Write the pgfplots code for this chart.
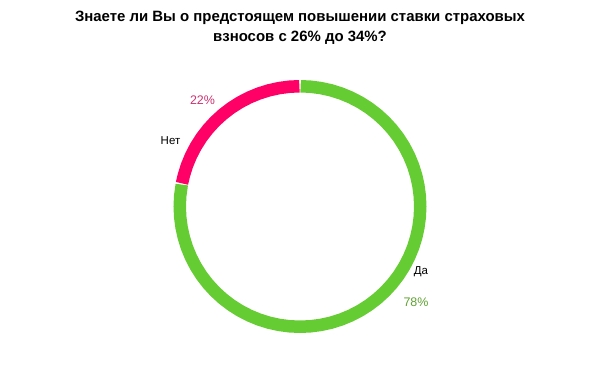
\documentclass[border=0pt]{standalone}
\usepackage{pgfplots}
\pgfplotsset{compat=1.18}
\usepgfplotslibrary{polar}
\usepackage{fontspec}
\setmainfont{Liberation Sans}
\definecolor{ringGreen}{HTML}{66CC33}
\definecolor{ringPink}{HTML}{FF0066}
\definecolor{lblPink}{HTML}{CC3370}
\definecolor{lblGreen}{HTML}{5FA232}
\begin{document}
\begin{tikzpicture}
\useasboundingbox (0,0) rectangle (600bp,366bp);
% Data: Нет 22%, Да 78% (starting at 12 o'clock; Нет counter-clockwise, Да clockwise)
\begin{polaraxis}[
  at={(300bp,159.5bp)}, anchor=center,
  scale only axis, width=253bp, height=253bp,
  ymin=0, ymax=126.5, hide axis, clip=false]
% Нет: 22% -> 79.2 degrees, 90 .. 169.2
\addplot[ringPink, line width=12.5bp, no markers] coordinates {
 (90.3,120.25) (95,120.25) (100,120.25) (105,120.25) (110,120.25) (115,120.25)
 (120,120.25) (125,120.25) (130,120.25) (135,120.25) (140,120.25) (145,120.25)
 (150,120.25) (155,120.25) (160,120.25) (165,120.25) (168.9,120.25)};
% Да: 78% -> 280.8 degrees, 90 .. -190.8
\addplot[ringGreen, line width=12.5bp, no markers] coordinates {
 (89.7,120.25) (85,120.25) (80,120.25) (75,120.25) (70,120.25) (65,120.25)
 (60,120.25) (55,120.25) (50,120.25) (45,120.25) (40,120.25) (35,120.25)
 (30,120.25) (25,120.25) (20,120.25) (15,120.25) (10,120.25) (5,120.25)
 (0,120.25) (-5,120.25) (-10,120.25) (-15,120.25) (-20,120.25) (-25,120.25)
 (-30,120.25) (-35,120.25) (-40,120.25) (-45,120.25) (-50,120.25) (-55,120.25)
 (-60,120.25) (-65,120.25) (-70,120.25) (-75,120.25) (-80,120.25) (-85,120.25)
 (-90,120.25) (-95,120.25) (-100,120.25) (-105,120.25) (-110,120.25) (-115,120.25)
 (-120,120.25) (-125,120.25) (-130,120.25) (-135,120.25) (-140,120.25) (-145,120.25)
 (-150,120.25) (-155,120.25) (-160,120.25) (-165,120.25) (-170,120.25) (-175,120.25)
 (-180,120.25) (-185,120.25) (-190.5,120.25)};
\end{polaraxis}
\node[font=\fontsize{15}{20}\selectfont\bfseries, align=center] at (300bp,338bp)
  {Знаете ли Вы о предстоящем повышении ставки страховых\\взносов с 26\%\ до 34\%?};
\node[font=\fontsize{12.5}{14}\selectfont, text=lblPink] at (202.5bp,266bp) {22\%};
\node[font=\fontsize{11.5}{13}\selectfont] at (170.5bp,225bp) {Нет};
\node[font=\fontsize{11.5}{13}\selectfont] at (421bp,94bp) {Да};
\node[font=\fontsize{12.5}{14}\selectfont, text=lblGreen] at (416bp,64bp) {78\%};
\end{tikzpicture}
\end{document}
